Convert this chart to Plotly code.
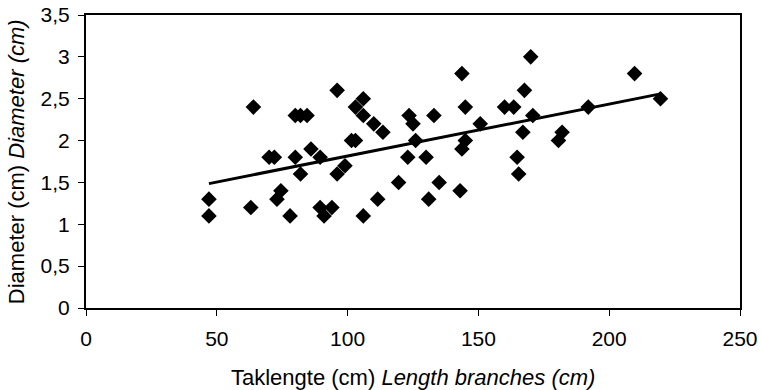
import numpy as np
import plotly.graph_objects as go

length_cm = [47, 47, 64, 63, 70, 72, 80, 82, 84.5, 86, 80, 82, 74.5, 73, 78, 89.5, 89.5, 91, 94,
             96, 96, 99, 101.5, 103, 103, 106, 106, 106, 110, 113.5, 111.5, 119.5, 123, 123.5, 125,
             126, 130, 131, 133, 135, 143, 143.7, 145, 145, 143.7, 150.7, 160, 163.5, 164.8, 165.4,
             167.6, 170, 170.8, 167, 182, 180.6, 192, 209.7, 219.6]
diameter_cm = [1.3, 1.1, 2.4, 1.2, 1.8, 1.8, 2.3, 2.3, 2.3, 1.9, 1.8, 1.6, 1.4, 1.3, 1.1, 1.8, 1.2, 1.1, 1.2,
               2.6, 1.6, 1.7, 2.0, 2.0, 2.4, 2.5, 2.3, 1.1, 2.2, 2.1, 1.3, 1.5, 1.8, 2.3, 2.2,
               2.0, 1.8, 1.3, 2.3, 1.5, 1.4, 2.8, 2.4, 2.0, 1.9, 2.2, 2.4, 2.4, 1.8, 1.6,
               2.6, 3.0, 2.3, 2.1, 2.1, 2.0, 2.4, 2.8, 2.5]

x_ticks = [0, 50, 100, 150, 200, 250]
y_ticks = [0, 0.5, 1, 1.5, 2, 2.5, 3, 3.5]
y_tick_text = ["0", "0,5", "1", "1,5", "2", "2,5", "3", "3,5"]

x_title = "Taklengte (cm) <i>Length branches (cm)</i>"
y_title = "Diameter (cm) <i>Diameter (cm)</i>"

slope, intercept = np.polyfit(length_cm, diameter_cm, 1)
trend_x = [min(length_cm), max(length_cm)]
trend_y = [intercept + slope * v for v in trend_x]

font_family = "Liberation Sans, Arial, sans-serif"
TICK_FS = 21
TITLE_FS = 22

fig = go.Figure()
fig.add_trace(go.Scatter(
    x=length_cm, y=diameter_cm, mode="markers",
    marker=dict(symbol="diamond", size=12, color="black", line=dict(width=0)),
    showlegend=False, hoverinfo="x+y"))
fig.add_trace(go.Scatter(
    x=trend_x, y=trend_y, mode="lines",
    line=dict(color="black", width=3), showlegend=False))

fig.update_layout(
    width=761, height=390,
    margin=dict(l=86, r=21, t=15, b=82),
    paper_bgcolor="white", plot_bgcolor="white",
    font=dict(family=font_family, size=TICK_FS, color="black"),
    xaxis=dict(
        range=[0, 250], tickvals=x_ticks, ticktext=[str(v) for v in x_ticks],
        showgrid=False, zeroline=False, automargin=False,
        showline=True, linecolor="black", linewidth=2, mirror=True,
        ticks="outside", ticklen=6, tickwidth=1, tickcolor="black",
        ticklabelstandoff=5,
    ),
    yaxis=dict(
        range=[0, 3.5], tickvals=y_ticks, ticktext=y_tick_text,
        showgrid=False, zeroline=False, automargin=False,
        showline=True, linecolor="black", linewidth=2, mirror=True,
        ticks="outside", ticklen=6, tickwidth=1, tickcolor="black",
        ticklabelstandoff=4,
    ),
    annotations=[
        dict(text=x_title, xref="paper", yref="paper", x=0.5, y=-0.2355,
             xanchor="center", yanchor="middle", showarrow=False,
             font=dict(size=TITLE_FS)),
        dict(text=y_title, xref="paper", yref="paper", x=-0.106, y=0.5,
             xanchor="center", yanchor="middle", showarrow=False, textangle=-90,
             font=dict(size=TITLE_FS)),
    ],
)

fig.write_html(
    "out.html",
    config={"displayModeBar": False},
    post_script="document.body.style.margin='0';document.body.style.overflow='hidden';",
)
